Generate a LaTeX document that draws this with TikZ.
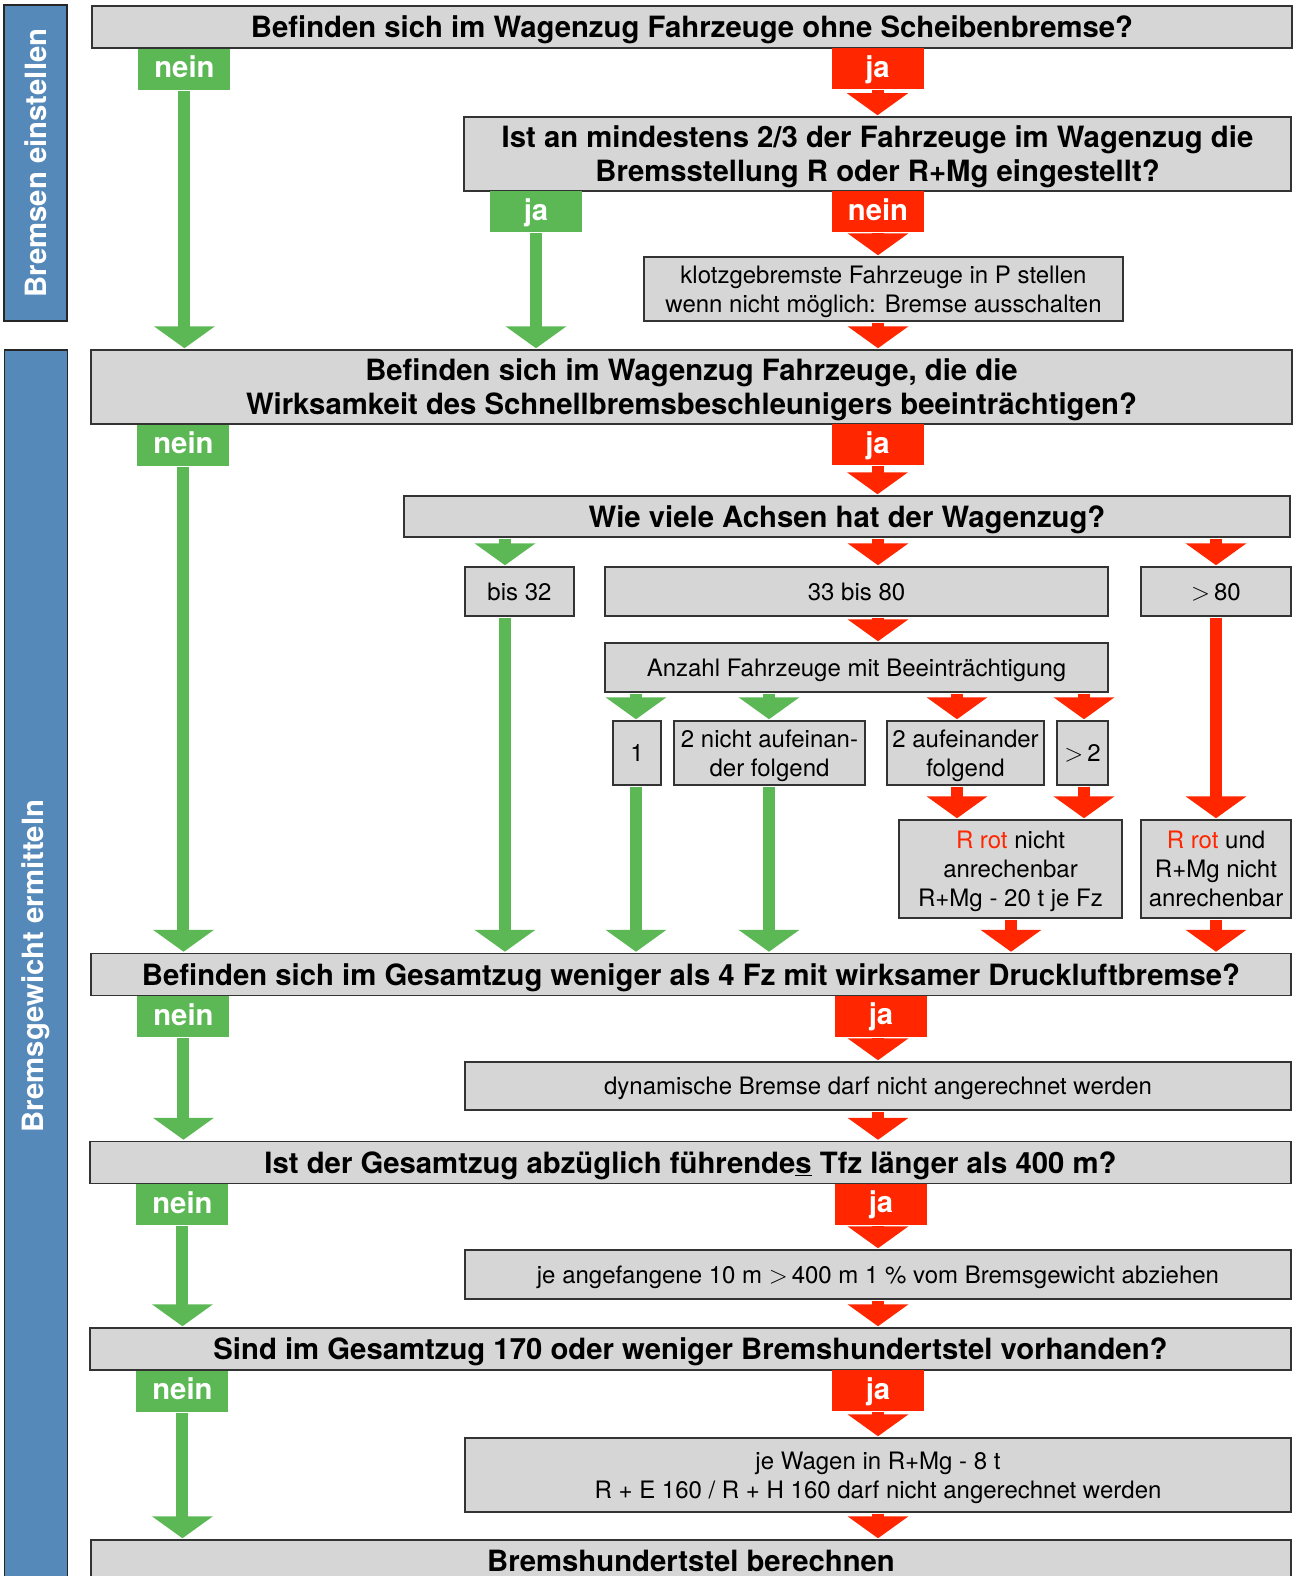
\documentclass[tikz,border=0pt]{standalone}
\usepackage{fontspec}
\setmainfont{TeX Gyre Heros}
\usetikzlibrary{arrows.meta,positioning}
\definecolor{grn}{RGB}{92,184,84}
\definecolor{rd}{RGB}{255,38,0}
\definecolor{blu}{RGB}{85,137,186}
\definecolor{gry}{RGB}{214,214,214}
\tikzset{
    %Define style for boxes
    question/.style={
           rectangle,
           draw=black!80, line width=1.5pt,
           fill=gry,
           inner sep=0pt,
           minimum height=42pt,
           align=center,
           text depth=0pt,
           font={\bfseries\fontsize{29.3}{34}\selectfont}},
    action/.style={
           rectangle,
           draw=black!80, line width=1.5pt,
           fill=gry,
           inner sep=0pt,
           minimum height=49pt,
           align=center,
           text depth=0pt,
           font={\fontsize{24}{29}\selectfont}},
    greenlabel/.style={
           rectangle,
           fill=grn,
           text=white,
           inner sep=0pt,
           minimum width=92pt,
           minimum height=41pt,
           text depth=5pt,
           font={\bfseries\fontsize{29.3}{34}\selectfont}},
    redlabel/.style={
           greenlabel,
           fill=rd},
    phase/.style={
           rectangle,
           draw=black!85, line width=1.5pt,
           fill=blu,
           text=white,
           inner sep=0pt,
           rotate=90,
           minimum height=63pt,
           font={\bfseries\fontsize{29.3}{34}\selectfont}},
    % Define arrow style
    greenarrow/.style={
           draw=grn,
           line width=12pt,
           -{Triangle[width=60pt,length=22pt]},
           shorten <=0.75pt,
           shorten >=1pt},
    redarrow/.style={
           greenarrow,
           draw=rd}
}
\begin{document}
\begin{tikzpicture}[x=1pt,y=-1pt]
\clip (0,0) rectangle (1296,1576);
 %lanes
\coordinate (lleft) at (184,0);
\coordinate (lmid) at (878,0);
\coordinate (lbis) at (505,0);
\coordinate (lone) at (636,0);
\coordinate (ltwo) at (769,0);
\coordinate (lthree) at (957,0);
\coordinate (lfour) at (1084,0);
\coordinate (lrot) at (1011,0);
\coordinate (lover) at (1216,0);

 %nodes
\node[phase, minimum width=316pt] (ph1) at (35.5,163) {Bremsen einstellen};
\node[phase, minimum width=1232pt] (ph2) at (36,966) {Bremsgewicht ermitteln};

\node[question, minimum width=1200pt] (q1) at (692,27) {Befinden sich im Wagenzug Fahrzeuge ohne Scheibenbremse?};
\node[greenlabel, below right=0pt and 47pt of q1.south west] (nein1) {nein};
\node[redlabel, anchor=north] (ja1) at (877.5,48) {ja};

\node[question, minimum width=827pt, minimum height=74pt] (q2) at (877.5,154) {Ist an mindestens 2/3 der Fahrzeuge im Wagenzug die\\Bremsstellung R oder R+Mg eingestellt?};
\node[greenlabel, anchor=north] (ja2) at (536,191) {ja};
\node[redlabel, anchor=north] (nein2) at (878,191) {nein};
\node[action, minimum width=479pt, minimum height=64pt] (klotz) at (883.5,289) {klotzgebremste Fahrzeuge in P stellen\\wenn nicht möglich: Bremse ausschalten};

\node[question, minimum width=1201pt, minimum height=74pt] (q3) at (691.5,387) {Befinden sich im Wagenzug Fahrzeuge, die die\\Wirksamkeit des Schnellbremsbeschleunigers beeinträchtigen?};
\node[greenlabel, below right=0pt and 47pt of q3.south west] (nein3) {nein};
\node[redlabel, anchor=north] (ja3) at (877.5,424) {ja};

\node[question, minimum width=886pt, minimum height=41pt] (q4) at (847,516.5) {Wie viele Achsen hat der Wagenzug?};
\node[action, minimum width=109pt] (bis32) at (519.5,591.5) {bis 32};
\node[action, minimum width=503pt] (mid) at (856.5,591.5) {33 bis 80};
\node[action, minimum width=150pt] (over80) at (1216,591.5) {$>$\,80};
\node[action, minimum width=503pt] (count) at (856.5,667.5) {Anzahl Fahrzeuge mit Beeinträchtigung};
\node[action, minimum width=48pt, minimum height=64pt] (c1) at (637,753) {1};
\node[action, minimum width=191pt, minimum height=64pt] (c2) at (769.5,753) {2 nicht aufeinan-\\der folgend};
\node[action, minimum width=157pt, minimum height=64pt] (c3) at (965.5,753) {2 aufeinander\\folgend};
\node[action, minimum width=51pt, minimum height=64pt] (c4) at (1082.5,753) {$>$\,2};
\node[action, minimum width=223pt, minimum height=98pt] (rot1) at (1010.5,869) {\textcolor{rd}{R rot} nicht\\anrechenbar\\R+Mg - 20 t je Fz};
\node[action, minimum width=150pt, minimum height=98pt] (rot2) at (1216,869) {\textcolor{rd}{R rot} und\\R+Mg nicht\\anrechenbar};

\node[question, minimum width=1200pt] (q5) at (691,974.5) {Befinden sich im Gesamtzug weniger als 4 Fz mit wirksamer Druckluftbremse?};
\node[greenlabel, below right=0pt and 47pt of q5.south west] (nein4) {nein};
\node[redlabel, anchor=north] (ja4) at (881,995.5) {ja};
\node[action, minimum width=826pt, minimum height=48pt] (dyn) at (878,1086) {dynamische Bremse darf nicht angerechnet werden};

\node[question, minimum width=1201pt] (q6) at (690.5,1162.5) {Ist der Gesamtzug abzüglich führende\underline{s} Tfz länger als 400 m?};
\node[greenlabel, below right=0pt and 47pt of q6.south west] (nein5) {nein};
\node[redlabel, anchor=north] (ja5) at (881,1183.5) {ja};
\node[action, minimum width=826pt] (len) at (878,1274.5) {je angefangene 10 m $>$\,400 m 1 \% vom Bremsgewicht abziehen};

\node[question, minimum width=1201pt] (q7) at (690.5,1349) {Sind im Gesamtzug 170 oder weniger Bremshundertstel vorhanden?};
\node[greenlabel, below right=0pt and 47pt of q7.south west] (nein6) {nein};
\node[redlabel, anchor=north] (ja6) at (878,1370) {ja};
\node[action, minimum width=826pt, minimum height=74pt] (wagen) at (878,1475) {je Wagen in R+Mg - 8 t\\R + E 160 / R + H 160 darf nicht angerechnet werden};

\node[question, minimum width=1200pt] (fin) at (691,1561) {Bremshundertstel berechnen};

 %arrows
\path
    (nein1) edge[greenarrow] (nein1 |- q3.north)
    (ja1) edge[redarrow] (ja1 |- q2.north)
    (ja2) edge[greenarrow] (ja2 |- q3.north)
    (nein2) edge[redarrow] (nein2 |- klotz.north)
    (klotz.south -| nein2) edge[redarrow] (nein2 |- q3.north)
    (nein3) edge[greenarrow] (nein3 |- q5.north)
    (ja3) edge[redarrow] (ja3 |- q4.north)
    (q4.south -| lbis) edge[greenarrow] (lbis |- bis32.north)
    (q4.south -| lmid) edge[redarrow] (lmid |- mid.north)
    (q4.south -| lover) edge[redarrow] (lover |- over80.north)
    (bis32.south -| lbis) edge[greenarrow] (lbis |- q5.north)
    (mid.south -| lmid) edge[redarrow] (lmid |- count.north)
    (count.south -| lone) edge[greenarrow] (lone |- c1.north)
    (count.south -| ltwo) edge[greenarrow] (ltwo |- c2.north)
    (count.south -| lthree) edge[redarrow] (lthree |- c3.north)
    (count.south -| lfour) edge[redarrow] (lfour |- c4.north)
    (c1.south -| lone) edge[greenarrow] (lone |- q5.north)
    (c2.south -| ltwo) edge[greenarrow] (ltwo |- q5.north)
    (c3.south -| lthree) edge[redarrow] (lthree |- rot1.north)
    (c4.south -| lfour) edge[redarrow] (lfour |- rot1.north)
    (over80.south -| lover) edge[redarrow] (lover |- rot2.north)
    (rot1.south -| lrot) edge[redarrow] (lrot |- q5.north)
    (rot2.south -| lover) edge[redarrow] (lover |- q5.north)
    (nein4) edge[greenarrow] (nein4 |- q6.north)
    (ja4.south -| lmid) edge[redarrow] (lmid |- dyn.north)
    (dyn.south -| lmid) edge[redarrow] (lmid |- q6.north)
    (nein5) edge[greenarrow] (nein5 |- q7.north)
    (ja5.south -| lmid) edge[redarrow] (lmid |- len.north)
    (len.south -| lmid) edge[redarrow] (lmid |- q7.north)
    (nein6) edge[greenarrow] (nein6 |- fin.north)
    (ja6) edge[redarrow] (ja6 |- wagen.north)
    (wagen.south -| lmid) edge[redarrow] (lmid |- fin.north);
\end{tikzpicture}
\end{document}
